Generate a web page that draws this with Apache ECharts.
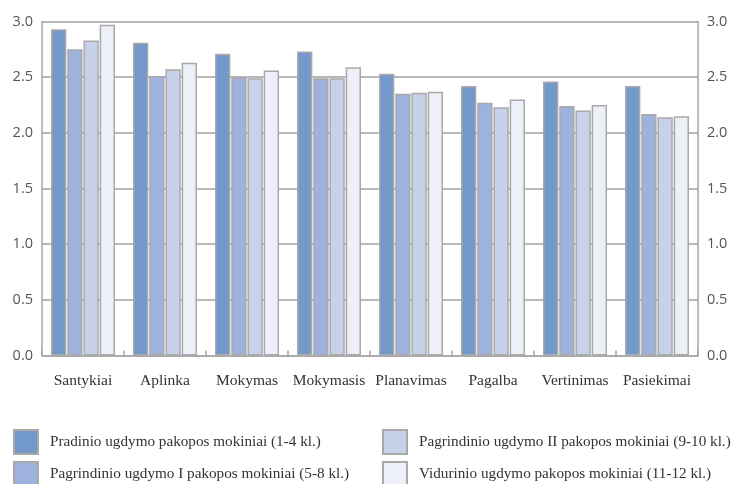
<!DOCTYPE html>
<html>
<head>
<meta charset="utf-8">
<script src="https://cdn.jsdelivr.net/npm/echarts@6/dist/echarts.min.js"></script>
<style>
html,body{margin:0;padding:0;background:#fff;}
#chart{width:749px;height:484px;}
</style>
</head>
<body>
<div id="chart"></div>
<script>
const categories = ['Santykiai','Aplinka','Mokymas','Mokymasis','Planavimas','Pagalba','Vertinimas','Pasiekimai'];
const seriesNames = [
  'Pradinio ugdymo pakopos mokiniai (1-4 kl.)',
  'Pagrindinio ugdymo I pakopos mokiniai (5-8 kl.)',
  'Pagrindinio ugdymo II pakopos mokiniai (9-10 kl.)',
  'Vidurinio ugdymo pakopos mokiniai (11-12 kl.)'
];
const pradinio   = [2.93, 2.81, 2.71, 2.73, 2.53, 2.42, 2.46, 2.42];
const pagrindI   = [2.75, 2.51, 2.50, 2.49, 2.35, 2.27, 2.24, 2.17];
const pagrindII  = [2.83, 2.57, 2.49, 2.49, 2.36, 2.23, 2.20, 2.14];
const vidurinio  = [2.97, 2.63, 2.56, 2.59, 2.37, 2.30, 2.25, 2.15];
const yTicks = [0, 0.5, 1, 1.5, 2, 2.5, 3];

const colors = ['#7398ca', '#9db2dc', '#c7d2ea', '#edf0f8'];
const values = [pradinio, pagrindI, pagrindII, vidurinio];
const serif = '"Liberation Serif", "DejaVu Serif", serif';
const sans = '"Open Sans", "Noto Sans", sans-serif';

const chart = echarts.init(document.getElementById('chart'), null, {renderer: 'canvas'});

const yAxisBase = (pos) => ({
  type: 'value',
  position: pos,
  min: yTicks[0],
  max: yTicks[yTicks.length - 1],
  interval: 0.5,
  axisLine: {show: true, lineStyle: {color: '#a6a6a6', width: 1.5}},
  axisTick: {show: false},
  axisLabel: {
    color: '#555',
    fontFamily: sans,
    fontSize: 14.5,
    margin: 9,
    formatter: v => v.toFixed(1)
  },
  splitLine: {show: pos === 'left', lineStyle: {color: '#a0a0a0', width: 1.5}}
});

const legendPos = [[13, 429], [13, 461], [382, 429], [382, 461]];
const legends = seriesNames.map((n, i) => ({
  data: [n],
  orient: 'horizontal',
  left: legendPos[i][0], top: legendPos[i][1],
  itemWidth: 24, itemHeight: 24,
  icon: 'rect',
  padding: 0,
  textStyle: {color: '#333', fontFamily: serif, fontSize: 15.2, padding: [0, 0, 0, 7]}
}));

chart.setOption({
  animation: false,
  backgroundColor: '#fff',
  grid: {left: 42, right: 51, top: 21.5, bottom: 128.5, containLabel: false},
  xAxis: {
    type: 'category',
    data: categories,
    boundaryGap: true,
    axisLine: {lineStyle: {color: '#a6a6a6', width: 1.5}},
    axisTick: {show: true, inside: true, length: 5, lineStyle: {color: '#a6a6a6', width: 1.5}},
    axisLabel: {color: '#333', fontFamily: serif, fontSize: 15.5, margin: 17, interval: 0}
  },
  yAxis: [yAxisBase('left'), yAxisBase('right')],
  legend: legends,
  series: seriesNames.map((name, i) => ({
    name: name,
    type: 'bar',
    data: values[i],
    barGap: '6%',
    barCategoryGap: '22%',
    itemStyle: {color: colors[i], borderColor: '#a9a9a9', borderWidth: 1.5}
  }))
});
</script>
</body>
</html>
